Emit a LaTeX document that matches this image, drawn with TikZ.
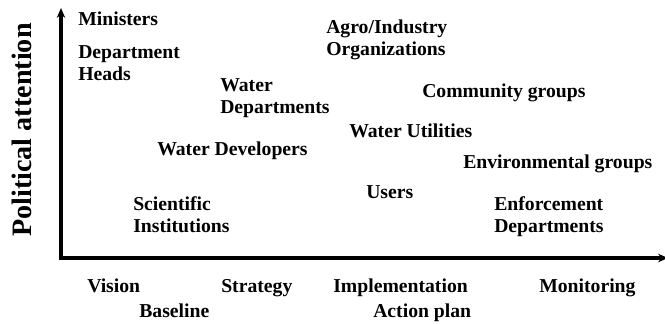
\documentclass[tikz,border=0pt]{standalone}
\usepackage{fontspec}
\setmainfont{Liberation Serif}
\usepackage{tikz}
\usetikzlibrary{arrows.meta, positioning}

\begin{document}
\begin{tikzpicture}[
    x=0.025cm, y=-0.025cm,
    actor/.style={anchor=base west, inner sep=0pt, align=left, font=\fontsize{14}{15.6}\selectfont\bfseries},
    phase/.style={anchor=base west, inner sep=0pt, font=\fontsize{14}{15.6}\selectfont\bfseries},
    axislabel/.style={inner sep=0pt, font=\fontsize{20}{22}\selectfont\bfseries},
    axis/.style={-{Stealth[length=7pt, width=6pt]}, line width=2.3pt}
]
    \useasboundingbox (0,0) rectangle (665,323);

    % Axes
    \coordinate (origin) at (61,258);
    \coordinate (ytop) at (61,8);
    \coordinate (xend) at (668,258);
    \draw[axis] (origin) -- (ytop);
    \draw[axis] ([xshift=-1.15pt]origin) -- (xend);
    \node[axislabel, rotate=90] (yaxis) at (22,130) {Political attention};

    % Stakeholders (base = last line)
    \node[actor] (ministers) at (78,25) {Ministers};
    \node[actor] (heads) at (78,80) {Department\\Heads};
    \node[actor] (waterdep) at (220,113) {Water\\Departments};
    \node[actor] (developers) at (157,155) {Water Developers};
    \node[actor] (agro) at (326,55) {Agro/Industry\\Organizations};
    \node[actor] (community) at (422,97) {Community groups};
    \node[actor] (utilities) at (349,137) {Water Utilities};
    \node[actor] (environment) at (463,168) {Environmental groups};
    \node[actor] (users) at (366,198) {Users};
    \node[actor] (science) at (133,232) {Scientific\\Institutions};
    \node[actor] (enforcement) at (494,232) {Enforcement\\Departments};

    % Policy phases
    \node[phase] (vision) at (87,292) {Vision};
    \node[phase] (strategy) at (221,292) {Strategy};
    \node[phase] (implementation) at (333,292) {Implementation};
    \node[phase] (monitoring) at (539,292) {Monitoring};
    \node[phase] (baseline) at (139,317) {Baseline};
    \node[phase] (actionplan) at (373,317) {Action plan};

\end{tikzpicture}
\end{document}
